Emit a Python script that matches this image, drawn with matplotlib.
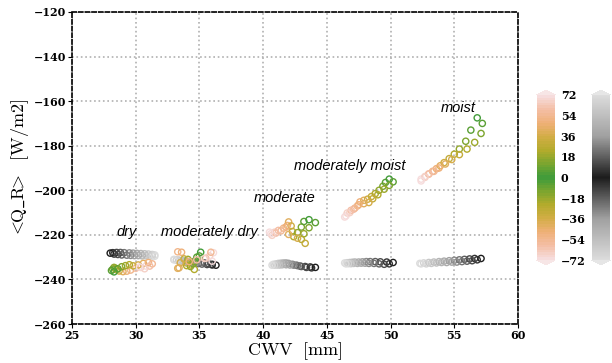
import numpy as np
import matplotlib
matplotlib.use("Agg")
import matplotlib.pyplot as plt
from matplotlib.colors import LinearSegmentedColormap, Normalize
from matplotlib.cm import ScalarMappable

plt.rcParams['mathtext.fontset'] = 'cm'

# lag (hours) relative to the event, -72 .. 72 every 6 h
lags = [-72, -66, -60, -54, -48, -42, -36, -30, -24, -18, -12, -6, 0,
        6, 12, 18, 24, 30, 36, 42, 48, 54, 60, 66, 72]

regimes = ['dry', 'moderately dry', 'moderate', 'moderately moist', 'moist']

# colored series: <Q_R> vs CWV
dry_x = [30.8, 30.4, 30.0, 29.6, 29.3, 29.0, 28.7, 28.5, 28.4, 28.3, 28.2, 28.1, 28.3,
         28.6, 28.9, 29.2, 29.5, 29.8, 30.2, 30.6, 31.0, 31.3, 31.1, 30.7, 30.3]
dry_y = [-234.0, -234.6, -235.0, -235.8, -236.3, -236.5, -236.2, -235.6, -235.0, -234.6, -235.4, -236.0, -236.6,
         -235.2, -234.3, -233.8, -233.4, -233.9, -233.5, -232.8, -232.4, -233.0, -234.0, -235.2, -234.4]

mdry_x = [36.1, 35.8, 35.5, 33.3, 33.6, 33.4, 34.0, 34.3, 34.6, 34.3, 34.6, 35.0, 35.1,
          34.8, 34.5, 34.1, 34.0, 33.8, 33.5, 33.3, 34.2, 35.9, 34.8, 35.4, 36.0]
mdry_y = [-228.0, -229.5, -230.5, -227.6, -227.8, -234.8, -232.6, -233.5, -235.5, -234.2, -232.0, -229.5, -227.8,
          -230.0, -233.0, -231.0, -233.8, -230.8, -232.5, -235.0, -232.0, -227.8, -231.2, -230.6, -231.8]

mod_x = [40.6, 40.9, 41.2, 41.6, 41.9, 42.0, 42.2, 42.3, 42.4, 42.7, 43.0, 43.2, 43.6,
         44.1, 43.6, 43.2, 43.0, 43.3, 42.7, 42.0, 41.8, 41.4, 41.0, 40.7, 40.5]
mod_y = [-219.5, -218.8, -218.0, -217.0, -215.8, -214.2, -216.0, -218.5, -220.8, -219.0, -216.5, -214.0, -213.2,
         -214.5, -216.8, -219.5, -222.0, -223.8, -221.5, -219.8, -216.5, -218.2, -219.2, -220.2, -218.8]

mmoist_x = [46.5, 46.8, 47.1, 47.4, 47.6, 47.9, 48.2, 48.5, 48.8, 49.1, 49.4, 49.6, 49.9,
            50.2, 49.9, 49.5, 49.0, 48.6, 48.3, 47.9, 47.5, 47.2, 46.9, 46.6, 46.4]
mmoist_y = [-211.5, -210.0, -208.5, -207.0, -205.2, -204.5, -204.0, -202.8, -201.5, -200.0, -198.2, -196.5, -195.0,
            -196.2, -197.8, -199.5, -202.0, -203.8, -205.5, -206.0, -206.5, -208.0, -209.0, -210.2, -212.0]

moist_x = [52.4, 52.7, 53.0, 53.3, 53.6, 53.9, 54.2, 54.6, 55.0, 55.4, 55.9, 56.3, 56.8,
           57.2, 57.1, 56.6, 56.0, 55.4, 54.8, 54.3, 53.8, 53.4, 53.0, 52.7, 52.4]
moist_y = [-195.0, -193.8, -192.6, -191.5, -190.3, -189.0, -187.6, -185.8, -183.8, -181.5, -178.0, -173.0, -167.5,
           -170.0, -174.5, -178.5, -181.5, -184.0, -186.2, -188.2, -190.0, -191.5, -192.8, -194.2, -195.8]

# gray series
dry_gx = [31.5, 31.3, 31.0, 30.7, 30.4, 30.1, 29.8, 29.5, 29.1, 28.8, 28.5, 28.2, 28.0,
          28.3, 28.6, 28.9, 29.3, 29.6, 29.9, 30.2, 30.5, 30.8, 31.1, 31.3, 31.5]
dry_gy = [-229.0, -228.8, -228.6, -228.5, -228.4, -228.3, -228.2, -228.1, -228.0, -227.9, -227.9, -228.0, -228.2,
          -228.6, -228.8, -229.0, -229.1, -229.2, -229.3, -229.3, -229.4, -229.4, -229.5, -229.5, -229.6]

mdry_gx = [33.0, 33.2, 33.4, 33.6, 33.8, 34.0, 34.3, 34.6, 34.9, 35.2, 35.6, 36.0, 36.3,
           36.0, 35.7, 35.4, 35.1, 34.8, 34.5, 34.2, 33.9, 33.6, 33.4, 33.2, 33.0]
mdry_gy = [-231.0, -231.2, -231.4, -231.6, -231.8, -232.0, -232.3, -232.6, -232.9, -233.1, -233.3, -233.5, -233.6,
           -233.2, -232.9, -232.6, -232.4, -232.2, -232.0, -231.9, -231.8, -231.6, -231.5, -231.3, -231.2]

mod_gx = [40.8, 41.0, 41.2, 41.4, 41.6, 41.8, 42.0, 42.3, 42.6, 42.9, 43.3, 43.7, 44.1,
          43.8, 43.4, 43.0, 42.7, 42.4, 42.1, 41.8, 41.5, 41.3, 41.1, 40.9, 40.7]
mod_gy = [-233.2, -233.0, -232.8, -232.7, -232.6, -232.6, -232.8, -233.2, -233.6, -234.0, -234.2, -234.4, -234.6,
          -234.8, -234.6, -234.2, -233.8, -233.6, -233.5, -233.4, -233.4, -233.5, -233.5, -233.6, -233.6]

mmoist_gx = [46.4, 46.6, 46.8, 47.0, 47.2, 47.5, 47.8, 48.1, 48.4, 48.8, 49.2, 49.7, 50.2,
             49.9, 49.5, 49.1, 48.7, 48.3, 48.0, 47.7, 47.4, 47.1, 46.9, 46.7, 46.5]
mmoist_gy = [-232.6, -232.5, -232.4, -232.3, -232.2, -232.2, -232.1, -232.0, -232.0, -232.0, -232.1, -232.2, -232.4,
             -233.0, -233.2, -233.0, -232.8, -232.8, -232.7, -232.7, -232.8, -232.8, -232.9, -232.9, -233.0]

moist_gx = [52.3, 52.6, 53.0, 53.4, 53.8, 54.2, 54.6, 55.0, 55.4, 55.8, 56.2, 56.6, 57.1,
            56.8, 56.4, 56.0, 55.6, 55.2, 54.8, 54.4, 54.0, 53.6, 53.2, 52.8, 52.4]
moist_gy = [-232.8, -232.6, -232.4, -232.2, -232.0, -231.8, -231.6, -231.4, -231.2, -231.0, -230.8, -230.6, -230.6,
            -231.2, -231.6, -231.8, -232.0, -232.2, -232.2, -232.4, -232.4, -232.6, -232.8, -233.0, -233.0]

cbar_ticks = [-72, -54, -36, -18, 0, 18, 36, 54, 72]

col_x = [dry_x, mdry_x, mod_x, mmoist_x, moist_x]
col_y = [dry_y, mdry_y, mod_y, mmoist_y, moist_y]
gray_x = [dry_gx, mdry_gx, mod_gx, mmoist_gx, moist_gx]
gray_y = [dry_gy, mdry_gy, mod_gy, mmoist_gy, moist_gy]

label_pos = [(29.3, -218.5), (35.8, -218.5), (41.7, -203.5), (46.8, -189.0), (55.3, -163.0)]

half = ['#f6dcdc', '#f4bea4', '#efb077', '#d2ad45', '#b2ab2c', '#7aa52f', '#3d9b3b']
green_cmap = LinearSegmentedColormap.from_list('phase', half + half[::-1][1:], N=64)
green_cmap.set_over('#f7e6e6')
green_cmap.set_under('#f7e6e6')
gray_cmap = LinearSegmentedColormap.from_list('gphase', ['#dcdcdc', '#a0a0a0', '#1c1c1c', '#a0a0a0', '#dcdcdc'], N=256)
gray_cmap.set_over('#e6e6e6')
gray_cmap.set_under('#e6e6e6')
norm = Normalize(-72, 72)

fig = plt.figure(figsize=(6.12, 3.63), dpi=100)
ax = fig.add_axes([0.1176, 0.1074, 0.7288, 0.8596])

for i in range(len(regimes)):
    ax.scatter(gray_x[i], gray_y[i], s=20, facecolors='none',
               edgecolors=gray_cmap(norm(np.array(lags))), linewidths=1.0, zorder=3)
for i in range(len(regimes)):
    ax.scatter(col_x[i], col_y[i], s=20, facecolors='none',
               edgecolors=green_cmap(norm(np.array(lags))), linewidths=1.0, zorder=4)
    ax.text(label_pos[i][0], label_pos[i][1], regimes[i], ha='center', va='center',
            fontsize=10.5, style='italic', family='Liberation Sans', zorder=5)

ax.set_xlim(25, 60)
ax.set_ylim(-260, -120)
ax.set_xticks(range(25, 61, 5))
ax.set_yticks(range(-260, -119, 20))
ax.grid(True, color='#b0b0b0', linestyle=':', linewidth=1.2)
for sp in ax.spines.values():
    sp.set_linestyle((0, (2.5, 1.5)))
    sp.set_linewidth(1.2)
for lab in ax.get_xticklabels() + ax.get_yticklabels():
    lab.set_family('DejaVu Serif')
    lab.set_weight('bold')
    lab.set_fontsize(8)
ax.tick_params(length=3, pad=1)
ax.set_xlabel(r'$\mathrm{CWV\ \ [mm]}$', fontsize=13, labelpad=0)
ax.set_ylabel(r'$\mathrm{<\!\!Q\_R\!\!>\ \ [W/m2]}$', fontsize=13, labelpad=2)

cax1 = fig.add_axes([0.877, 0.27, 0.030, 0.482])
cb1 = fig.colorbar(ScalarMappable(norm=norm, cmap=green_cmap), cax=cax1,
                   extend='both', extendfrac=0.03, ticks=cbar_ticks)
cb1.outline.set_visible(False)
cax1.tick_params(length=0, pad=4)
for lab in cax1.get_yticklabels():
    lab.set_family('DejaVu Serif')
    lab.set_weight('bold')
    lab.set_fontsize(8)

cax2 = fig.add_axes([0.967, 0.27, 0.030, 0.482])
cb2 = fig.colorbar(ScalarMappable(norm=norm, cmap=gray_cmap), cax=cax2,
                   extend='both', extendfrac=0.03, ticks=[])
cb2.outline.set_visible(False)

fig.savefig('out.png', dpi=100)
